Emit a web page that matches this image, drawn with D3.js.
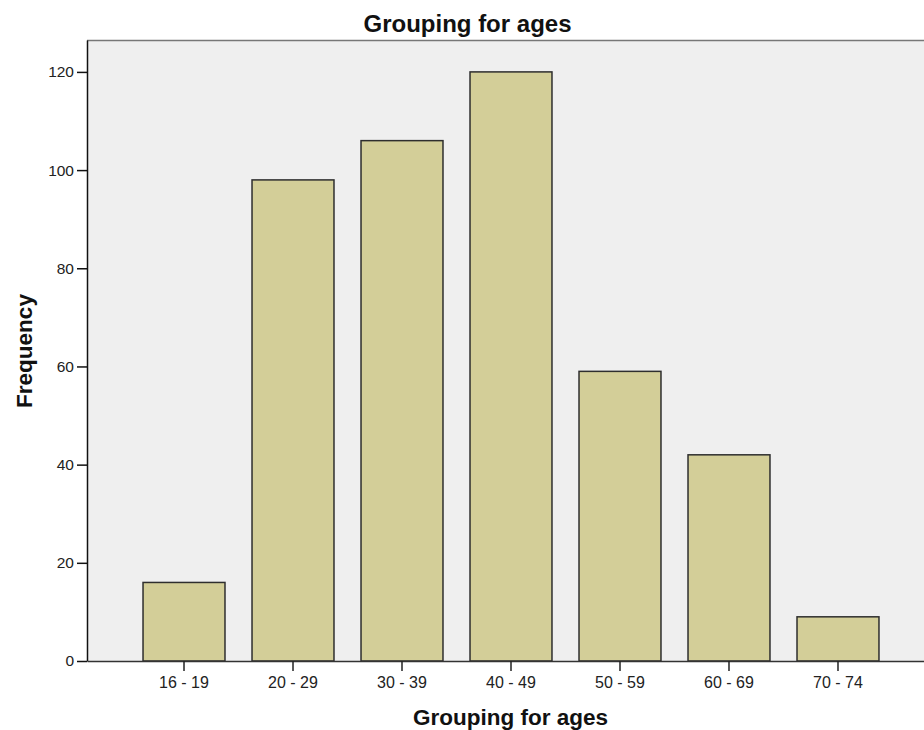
<!DOCTYPE html>
<html>
<head>
<meta charset="utf-8">
<script src="https://cdn.jsdelivr.net/npm/d3@7"></script>
<style>
  body { margin: 0; background: #fff; }
  svg { display: block; font-family: "Liberation Sans", Arial, sans-serif; }
</style>
</head>
<body>
<div id="chart"></div>
<script>
// age groups and counts
const ageGroups = ["16 - 19", "20 - 29", "30 - 39", "40 - 49", "50 - 59", "60 - 69", "70 - 74"];
const frequency = [16, 98, 106, 120, 59, 42, 9];
const yTicks = [0, 20, 40, 60, 80, 100, 120];

const W = 924, H = 730;
const margin = { top: 40, right: -11, bottom: 69, left: 87 };
const width = W - margin.left - margin.right;
const height = H - margin.top - margin.bottom;

const svg = d3.select("#chart").append("svg")
  .attr("width", W)
  .attr("height", H);

const plot = svg.append("g")
  .attr("transform", `translate(${margin.left},${margin.top})`);

const x = d3.scaleBand()
  .domain(ageGroups)
  .range([0, width])
  .paddingInner(0.248)
  .paddingOuter(0.514);

const y = d3.scaleLinear()
  .domain([0, 126.5])
  .range([height, 0]);

// plot background
plot.append("rect")
  .attr("width", width)
  .attr("height", height)
  .attr("fill", "#efefef");

// top border
plot.append("line")
  .attr("x1", 0).attr("x2", width)
  .attr("y1", 0.5).attr("y2", 0.5)
  .attr("stroke", "#777")
  .attr("stroke-width", 1.5);

// bars
plot.selectAll(".bar")
  .data(frequency)
  .enter().append("rect")
  .attr("class", "bar")
  .attr("x", (d, i) => x(ageGroups[i]))
  .attr("y", d => y(d))
  .attr("width", x.bandwidth())
  .attr("height", d => height - y(d))
  .attr("fill", "#d3ce98")
  .attr("stroke", "#2e2e2e")
  .attr("stroke-width", 1.5);

// y axis
const yAxis = plot.append("g")
  .call(d3.axisLeft(y).tickValues(yTicks).tickSize(10).tickPadding(3).tickSizeOuter(0));
yAxis.select(".domain").attr("stroke", "#111").attr("stroke-width", 1.5);
yAxis.selectAll(".tick line").attr("stroke", "#111").attr("stroke-width", 1.5);
yAxis.selectAll(".tick text")
  .attr("font-size", 15.5)
  .attr("font-family", "Liberation Sans, Arial, sans-serif")
  .attr("fill", "#222");

// x axis
const xAxis = plot.append("g")
  .attr("transform", `translate(0,${height})`)
  .call(d3.axisBottom(x).tickSize(10).tickPadding(5.5).tickSizeOuter(0));
xAxis.select(".domain").attr("stroke", "#333").attr("stroke-width", 1.5);
xAxis.selectAll(".tick line").attr("stroke", "#222").attr("stroke-width", 1.5);
xAxis.selectAll(".tick text")
  .attr("font-size", 16)
  .attr("font-family", "Liberation Sans, Arial, sans-serif")
  .attr("fill", "#222");

// titles
svg.append("text")
  .attr("x", 467.5)
  .attr("y", 32)
  .attr("text-anchor", "middle")
  .attr("font-size", 24)
  .attr("font-weight", "bold")
  .attr("fill", "#111")
  .text("Grouping for ages");

svg.append("text")
  .attr("x", 510.5)
  .attr("y", 725)
  .attr("text-anchor", "middle")
  .attr("font-size", 22.5)
  .attr("font-weight", "bold")
  .attr("fill", "#111")
  .text("Grouping for ages");

svg.append("text")
  .attr("transform", "translate(32,351) rotate(-90)")
  .attr("text-anchor", "middle")
  .attr("font-size", 22.5)
  .attr("font-weight", "bold")
  .attr("fill", "#111")
  .text("Frequency");
</script>
</body>
</html>
